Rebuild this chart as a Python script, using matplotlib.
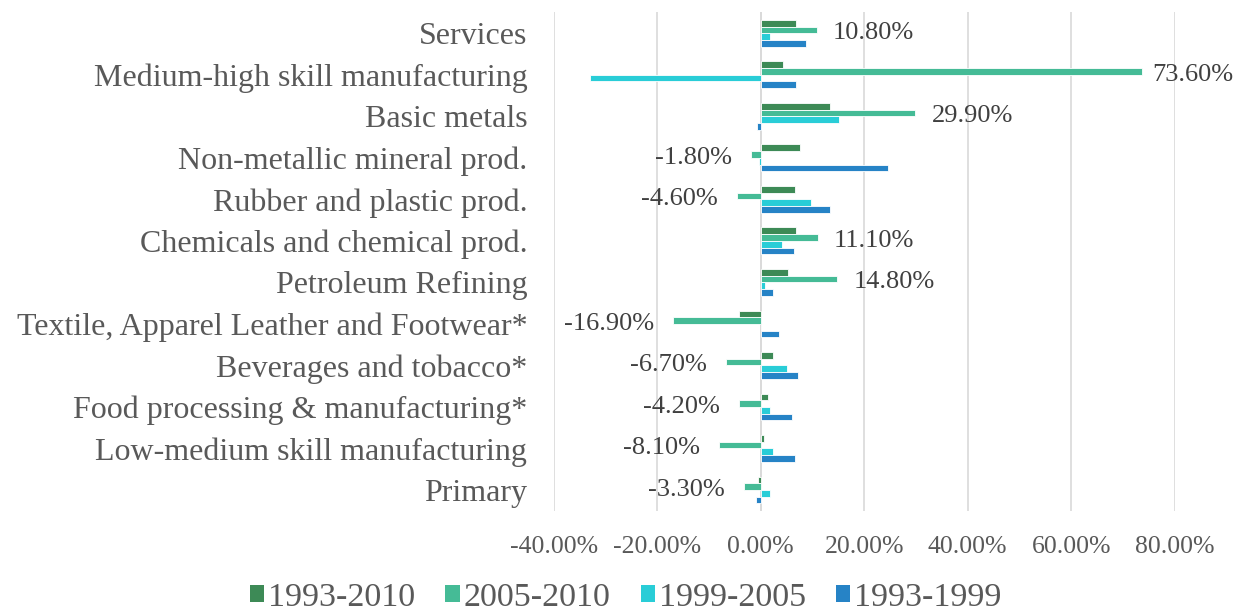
import matplotlib
matplotlib.use("Agg")
import matplotlib.pyplot as plt
import numpy as np

categories = ["Primary", "Low-medium skill manufacturing", "Food processing & manufacturing*",
              "Beverages and tobacco*", "Textile, Apparel Leather and Footwear*", "Petroleum Refining",
              "Chemicals and chemical prod.", "Rubber and plastic prod.", "Non-metallic mineral prod.",
              "Basic metals", "Medium-high skill manufacturing", "Services"]
series_names = ["1993-2010", "2005-2010", "1999-2005", "1993-1999"]
s_1993_2010 = [-0.6, 0.6, 1.4, 2.3, -4.1, 5.3, 6.9, 6.6, 7.5, 13.3, 4.4, 6.8]
s_2005_2010 = [-3.3, -8.1, -4.2, -6.7, -16.9, 14.8, 11.1, -4.6, -1.8, 29.9, 73.6, 10.8]
s_1999_2005 = [1.8, 2.3, 1.7, 5.0, 0.0, 0.8, 4.1, 9.7, -0.3, 15.2, -32.9, 1.7]
s_1993_1999 = [-0.9, 6.7, 6.1, 7.3, 3.5, 2.4, 6.4, 13.3, 24.5, -0.7, 6.8, 8.7]
xticks = [-40, -20, 0, 20, 40, 60, 80]

colors = ["#3D8A56", "#45BB96", "#29CDD7", "#2683C6"]
text_color = "#595959"
serif = ["Liberation Serif", "DejaVu Serif"]

fig = plt.figure(figsize=(12.37, 6.12), dpi=100)
ax = fig.add_axes([0.4476, 0.1654, 0.5021, 0.8142])

y = np.arange(len(categories))
h = 0.161
offsets = [1.5 * h, 0.5 * h, -0.5 * h, -1.5 * h]
all_series = [s_1993_2010, s_2005_2010, s_1999_2005, s_1993_1999]
for vals, off, col, name in zip(all_series, offsets, colors, series_names):
    ax.barh(y + off, vals, height=h, color=col, edgecolor="#FFFFFF", linewidth=0.6,
            label=name, zorder=3)

# data labels for 2005-2010
labels_txt = []
for yi, v in zip(y, s_2005_2010):
    if v >= 0:
        t = ax.annotate(f"{v:.2f}%", xy=(v, yi), xytext=(16, 0),
                        textcoords="offset pixels", ha="left", va="center",
                        fontsize=19, color="#404040", family=serif, annotation_clip=False)
    else:
        t = ax.annotate(f"{v:.2f}%", xy=(v, yi), xytext=(-19, 0),
                        textcoords="offset pixels", ha="right", va="center",
                        fontsize=19, color="#404040", family=serif, annotation_clip=False)
    labels_txt.append(t)

ax.set_xlim(-40, 80)
ax.set_ylim(-0.5, len(categories) - 0.5)
ax.set_xticks(xticks)
ax.set_xticklabels([f"{t:.2f}%" for t in xticks], fontsize=18.5, color=text_color, family=serif)
ax.set_yticks(y)
ax.set_yticklabels(categories, fontsize=23, color=text_color, family=serif)
ax.tick_params(axis="both", length=0)
ax.tick_params(axis="y", pad=19)
ax.tick_params(axis="x", pad=18)
ax.grid(axis="x", color="#D9D9D9", linewidth=1.2, zorder=0)
ax.axvline(0, color="#D9D9D9", linewidth=1.2, zorder=1)
for s in ax.spines.values():
    s.set_visible(False)

handles, labels = ax.get_legend_handles_labels()
leg = fig.legend(handles, labels, loc="center", bbox_to_anchor=(0.506, 0.024), ncol=4,
                 frameon=False, prop={"family": serif, "size": 24.5}, handlelength=0.42,
                 handleheight=0.42, handletextpad=0.12, columnspacing=0.88, labelcolor=text_color)
for p in leg.get_patches():
    p.set_edgecolor("none")

# keep labels inside the figure (like the source chart)
fig.canvas.draw()
r = fig.canvas.get_renderer()
W = fig.bbox.width
for t in labels_txt:
    bb = t.get_window_extent(r)
    if bb.x1 > W - 4:
        dx = bb.x1 - (W - 4)
        ox, oy = t.xyann
        t.xyann = (ox - dx, oy)

fig.savefig("out.png", dpi=100)
